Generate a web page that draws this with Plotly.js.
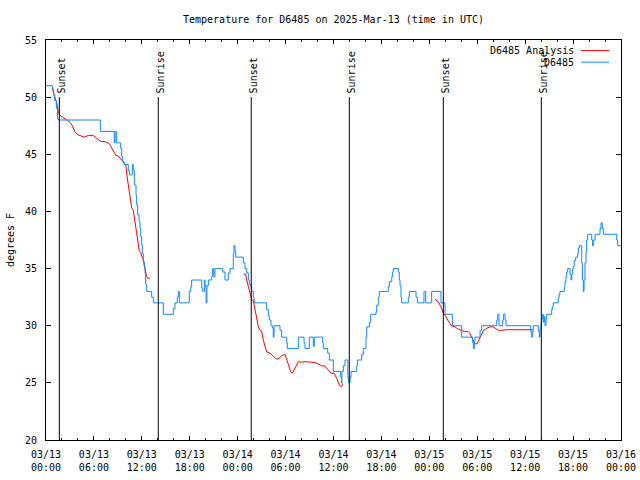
<!DOCTYPE html>
<html>
<head>
<meta charset="utf-8">
<script src="https://cdn.plot.ly/plotly-3.0.1.min.js"></script>
<style>html,body{margin:0;padding:0;background:#fff;}#chart{width:640px;height:480px;}</style>
</head>
<body>
<div id="chart"></div>
<script>
// hours since 2025-03-13 00:00 UTC
const startDate = Date.UTC(2025, 2, 13, 0, 0, 0);

// D6485 observations
const obsHours = [0,0.8,0.95,1.1,1.3,1.45,1.55,6.8,8.55,8.65,8.85,9.35,9.48,9.6,9.77,10.31,10.43,10.81,10.93,11.06,11.27,11.35,11.48,11.65,11.77,11.86,11.98,12.06,12.19,12.31,12.4,12.48,12.61,13.23,13.44,14.69,15.94,16.15,16.44,16.57,16.7,17.94,18.12,18.24,19.5,19.62,19.83,19.91,20.05,20.15,20.33,20.75,20.87,21.0,21.16,22.12,22.41,22.83,23.04,23.45,23.54,23.67,23.75,24.71,24.92,25.13,25.34,25.46,25.67,25.76,25.96,26.05,26.17,27.63,27.84,27.96,28.17,28.38,28.46,28.55,29.3,29.51,30.14,30.22,31.6,32.31,32.43,32.97,33.47,33.6,34.64,34.72,35.27,35.48,35.98,36.9,37.0,37.05,37.23,37.44,37.8,37.9,38.07,38.2,38.9,38.98,39.53,39.74,40.07,40.16,40.49,40.66,41.32,41.41,41.61,41.74,42.86,42.99,43.29,43.41,43.49,44.12,44.24,44.33,44.45,44.54,45.37,45.49,46.33,46.5,47.33,47.54,48.29,49.46,49.96,50.88,52.05,53.43,53.51,53.63,53.72,54.35,54.55,56.44,56.56,56.72,57.19,57.27,57.48,57.6,60.69,60.82,60.94,61.02,61.65,61.77,61.86,61.98,62.07,62.19,62.27,62.4,62.48,62.61,62.7,63.32,63.4,63.53,64.15,64.24,64.36,64.9,64.99,65.11,65.2,65.32,65.61,65.74,65.83,65.95,66.03,66.15,66.33,66.58,66.66,66.78,67.08,67.16,67.28,67.37,67.49,67.62,67.7,67.83,68.33,68.45,68.53,68.75,69.37,69.5,69.66,69.79,71.46,71.58,72.0];
const obsTemp = [51,50.7,50.2,49.7,49,48.1,48,47,46,47,46,45.5,44.8,44.35,44.1,43.6,43.2,44.1,43.6,42.3,41.4,40.6,39.7,39.1,38.5,37.8,37.1,36.3,35.6,35.2,34.6,33.6,33,32.5,32,31,31.5,32,32.5,33,32,33,33.4,34,33.3,33,34,33.5,32,33.5,34,34.3,35,34.3,35,34.7,34,34.6,35,36.3,37,36.5,36,35.5,35,34.6,34,33.6,33.4,33,32.5,32.1,32,31.4,30.9,30.5,30,29.8,29,30,29.6,29,28.5,28,29,28.5,28,29,28.2,29,28.5,28,27.6,27,26,25.5,25,26,26.5,27,25.5,25,25.5,26,26.5,27,27.5,28,29,29.9,30.3,31,31.2,31.8,32.5,33,33.4,33.85,34.3,34.7,35,34.7,34,33.5,32.5,32,32.5,33,32.5,32,33,32,33,32,31,30,29,28.5,28,28.6,29,29.6,30,30.5,31,30,30.5,31,30.5,30,29.5,29,29.5,30,29.5,29,29.7,30.2,30.6,31,30.3,30.8,30,30.6,31,31.4,31.7,32,32.4,32.75,33,33.4,33.85,34.3,34.7,35,34.5,34,34.5,35,35.2,35.7,36,36.3,36.8,37,35.5,34,33,34,35.5,36.5,37.5,38,37.5,37,37.5,38,38.5,39,38.5,38,37.5,37,37];

// D6485 Analysis (null = gap between analysis periods)
const anaHours = [0.8,1.0,1.35,1.55,1.75,2.2,2.5,3.0,3.3,3.6,4.0,4.5,4.8,5.3,5.9,6.35,6.8,7.4,7.9,8.15,8.45,8.75,9.05,9.35,9.6,9.8,10.0,10.1,10.31,10.43,10.6,10.73,10.93,11.06,11.14,11.27,11.43,11.56,11.68,11.86,11.98,12.1,12.3,12.48,12.6,12.73,13.0,
  18.0,
  24.71,25.0,25.13,25.34,25.55,25.76,25.96,26.17,26.38,26.59,26.8,27.0,27.21,27.42,27.63,28.05,28.46,28.88,29.18,29.5,29.93,30.14,30.34,30.64,30.84,31.18,31.6,32.0,32.43,33.06,33.68,34.1,34.52,34.94,35.35,35.77,36.06,36.4,36.73,37.02,37.15,
  43.0,
  48.71,49.13,49.42,49.75,50.09,50.38,50.8,51.21,51.63,52.05,52.47,52.88,53.09,53.31,53.51,53.72,54.01,54.26,54.47,54.76,55.18,55.6,56.01,56.35,56.64,57.06,57.69,60.6,61.0];
const anaTemp = [50.8,50.2,49.5,48.7,48.4,48.2,48.0,47.8,47.5,47.0,46.7,46.6,46.5,46.65,46.65,46.4,46.15,46.1,45.95,45.65,45.3,44.9,44.85,44.65,44.4,44.2,44.1,43.3,42.3,41.7,41.15,40.3,40.1,39.5,38.96,38.4,37.65,37.06,36.56,36.4,36.04,36.0,35.17,34.73,34.3,34.15,34.15,
  null,
  34.52,34.52,34.0,33.4,32.7,32.25,32.2,31.4,30.65,29.9,29.6,29.5,28.75,28.16,27.7,27.6,27.3,27.06,27.15,27.35,27.5,27.1,26.7,25.98,25.84,26.27,26.85,26.8,26.85,26.82,26.77,26.65,26.5,26.45,26.1,25.8,25.85,25.4,24.8,24.66,24.95,
  null,
  32.3,32.1,31.7,31.1,30.8,30.4,29.97,29.9,29.7,29.56,29.5,29.48,29.3,28.97,28.6,28.4,28.45,28.8,29.2,29.56,29.77,29.9,29.9,29.77,29.6,29.6,29.65,29.65,29.65];

// Sun events
const sunLabels = ["Sunset","Sunrise","Sunset","Sunrise","Sunset","Sunrise"];
const sunHours = [1.67,14.06,25.7,37.98,49.75,62.02];

const seriesNames = ["D6485 Analysis","D6485"];
const seriesColors = ["#ff0000","#1188ff"];

const toTime = h => (h === null ? null : startDate + h * 3600000);

const FONT = "DejaVu Sans Mono, Liberation Mono, monospace";

const traces = [
  {x: anaHours.map(toTime), y: anaTemp, type: "scatter", mode: "lines",
   name: seriesNames[0], line: {color: seriesColors[0], width: 1}, connectgaps: false},
  {x: obsHours.map(toTime), y: obsTemp, type: "scatter", mode: "lines",
   name: seriesNames[1], line: {color: seriesColors[1], width: 1, shape: "hv"}}
];

const shapes = sunHours.map(h => ({
  type: "line", xref: "x", yref: "y", x0: toTime(h), x1: toTime(h), y0: 20, y1: 50,
  line: {color: "#000", width: 1}
}));
const annotations = sunHours.map((h, i) => ({
  x: toTime(h), y: 50, xref: "x", yref: "y", text: sunLabels[i], showarrow: false,
  textangle: -90, xanchor: "center", yanchor: "bottom", xshift: 2, yshift: 2,
  font: {family: FONT, size: 10, color: "#000"}
}));

// manual gnuplot-style legend (text right-aligned, sample line to the right)
const legY = [0.9735, 0.9445];
seriesNames.forEach((n, i) => {
  annotations.push({xref: "paper", yref: "paper", x: (576 - 46) / 575, y: legY[i],
    text: n, showarrow: false, xanchor: "right", yanchor: "middle",
    font: {family: FONT, size: 10, color: "#000"}});
  shapes.push({type: "line", xref: "paper", yref: "paper",
    x0: (581 - 46) / 575, x1: (609 - 46) / 575, y0: legY[i], y1: legY[i],
    line: {color: seriesColors[i], width: 1}});
});

const layout = {
  width: 640, height: 480,
  margin: {l: 46, r: 19, t: 40, b: 40, autoexpand: false},
  paper_bgcolor: "#fff", plot_bgcolor: "#fff",
  font: {family: FONT, size: 10, color: "#000"},
  showlegend: false,
  title: {text: "Temperature for D6485 on 2025-Mar-13 (time in UTC)", x: 0.5, xref: "paper",
    y: 1 - 19 / 480, yanchor: "middle", font: {family: FONT, size: 10, color: "#000"}},
  xaxis: {
    type: "date", range: [toTime(0), toTime(72)],
    tick0: toTime(0), dtick: 6 * 3600000, tickformat: "%m/%d<br>%H:%M",
    ticks: "inside", ticklen: 4, tickcolor: "#000", tickwidth: 1,
    minor: {dtick: 2 * 3600000, ticks: "inside", ticklen: 2, tickcolor: "#000"},
    showline: true, linecolor: "#000", linewidth: 1, mirror: "ticks",
    showgrid: false, zeroline: false, fixedrange: true, ticklabelstandoff: 5,
    tickfont: {family: FONT, size: 10, color: "#000"}
  },
  yaxis: {
    range: [20, 55], dtick: 5, tick0: 20,
    ticks: "inside", ticklen: 5, tickcolor: "#000", tickwidth: 1,
    showline: true, linecolor: "#000", linewidth: 1, mirror: "ticks",
    showgrid: false, zeroline: false, ticklabelstandoff: 6,
    title: {text: "degrees F", standoff: 8, font: {family: FONT, size: 10, color: "#000"}},
    tickfont: {family: FONT, size: 10, color: "#000"}
  },
  shapes: shapes,
  annotations: annotations
};

Plotly.newPlot("chart", traces, layout, {displayModeBar: false, staticPlot: true});
</script>
</body>
</html>
